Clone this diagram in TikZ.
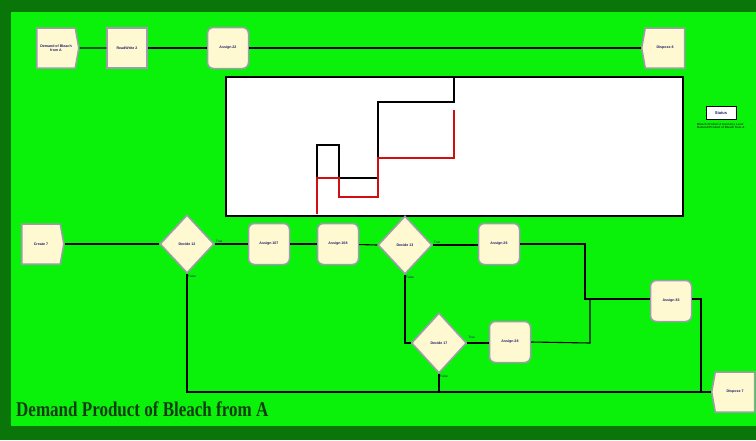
\documentclass[tikz,border=0pt]{standalone}
\usepackage{fontspec}
\setmainfont{Liberation Serif}
\newfontfamily\lsans{Liberation Sans}
\usetikzlibrary{shapes.geometric,shapes.symbols}
\definecolor{brightg}{HTML}{0AF20A}
\definecolor{darkg}{HTML}{0A760A}
\definecolor{cream}{HTML}{FFF9D2}
\definecolor{nodeborder}{HTML}{A09CAE}
\definecolor{labelc}{HTML}{1C1C66}
\definecolor{titlec}{HTML}{123C12}
\definecolor{plotred}{HTML}{D01010}
\tikzset{
  mod/.style={draw=nodeborder, line width=1.5pt, fill=cream, text=labelc,
    font=\lsans\bfseries\fontsize{3.6}{4.2}\selectfont, align=center, inner sep=1pt},
  assignbox/.style={mod, rounded corners=6pt, minimum width=41pt, minimum height=41pt},
  rwbox/.style={mod, minimum width=40pt, minimum height=40pt},
  createbox/.style={mod, signal, signal to=east, signal pointer angle=160,
    minimum width=42pt, minimum height=40pt},
  disposebox/.style={mod, signal, signal to=west, signal pointer angle=160,
    minimum width=43pt, minimum height=40pt},
  decidebox/.style={mod, diamond, aspect=0.93, minimum width=54pt, minimum height=58pt},
  conn/.style={draw=black, line width=1.1pt},
  lbl/.style={font=\lsans\fontsize{3.2}{3.8}\selectfont, text=labelc, inner sep=1pt},
}
\begin{document}
\begin{tikzpicture}[x=1pt,y=-1pt]
\useasboundingbox (0,0) rectangle (756,440);
\fill[darkg] (0,0) rectangle (756,440);
\fill[brightg] (11,12) rectangle (756,426);

% top row
\node[createbox] (demand) at (56,48) {Demand of Bleach\\from A};
\node[rwbox] (rw2) at (127,48) {ReadWrite 2};
\node[assignbox] (a22) at (228,48) {Assign 22};
\node[disposebox] (disp8) at (665,48) {Dispose 8};
\draw[conn] (demand) -- (rw2);
\draw[conn] (rw2) -- (a22);
\draw[conn] (a22) -- (disp8);

% plot
\node[draw=black, line width=1.6pt, fill=white, minimum width=457pt,
  minimum height=139pt, anchor=north west, inner sep=0pt] (plot) at (225,76) {};
\draw[black, line width=1.2pt] (317,178) -- (317,145) -- (339,145) -- (339,178)
  -- (378,178) -- (378,102) -- (454,102) -- (454,78);
\draw[plotred, line width=1.1pt] (317,214) -- (317,178) -- (339,178) -- (339,197)
  -- (378,197) -- (378,158) -- (454,158) -- (454,110);

% status
\node[draw=black, line width=1pt, fill=white, minimum width=30pt, minimum height=13pt,
  inner sep=1pt, font=\lsans\bfseries\fontsize{4}{4.5}\selectfont, text=labelc] (status) at (721,113) {Status};
\node[lbl, anchor=north west, align=left, font=\lsans\bfseries\fontsize{2.9}{3.6}\selectfont, text=titlec]
  (stattext) at (696,122) {Bleach Product A Inventory Level\\Demand Product of Bleach from A};

% bottom rows
\node[createbox] (c7) at (41,244) {Create 7};
\node[decidebox] (d12) at (187,244) {Decide 12};
\node[assignbox] (a107) at (269,244) {Assign 107};
\node[assignbox] (a108) at (338,244) {Assign 108};
\node[decidebox] (d13) at (405,245) {Decide 13};
\node[assignbox] (a26) at (499,244) {Assign 26};
\node[assignbox] (a83) at (671,301) {Assign 83};
\node[decidebox, minimum width=55pt, minimum height=60pt] (d17) at (439,343) {Decide 17};
\node[assignbox] (a28) at (510,342) {Assign 28};
\node[disposebox] (disp7) at (735,392) {Dispose 7};

\draw[conn] (c7) -- (d12);
\draw[conn] (d12.east) -- (a107);
\draw[conn] (a107) -- (a108);
\draw[conn] (a108) -- (d13.west);
\draw[conn] (d13.east) -- (a26.west |- d13.east);
\draw[conn] (a26.east) -- (585,244) -- (585,299) -- (a83.west |- 0,299);
\draw[conn] (d13.south) -- (405,343) -- (d17.west);
\draw[conn] (d17.east) -- (a28.west |- d17.east);
\draw[conn] (a28.east) -- (590,343) -- (590,299);
\draw[conn] (a83.east |- 0,299) -- (701,299) -- (701,392) -- (disp7.west);
\draw[conn] (d12.south) -- (187,392) -- (disp7.west);
\draw[conn] (d17.south) -- (439,392);

% decide labels
\node[lbl, anchor=south west] (d12t) at (d12.east) {True};
\node[lbl, anchor=north west] (d12f) at (d12.south) {False};
\node[lbl, anchor=south west] (d13t) at (d13.east) {True};
\node[lbl, anchor=north west] (d13f) at (d13.south) {False};
\node[lbl, anchor=north west] (d17t) at ([yshift=8pt]d17.east) {True};
\node[lbl, anchor=north west] (d17f) at (d17.south) {False};

% title
\node[anchor=base west, inner sep=0pt, text=titlec,
  font=\bfseries\fontsize{21}{21}\selectfont] (title) at (16,416)
  {\scalebox{0.81}[1]{Demand Product of Bleach from A}};
\end{tikzpicture}
\end{document}
